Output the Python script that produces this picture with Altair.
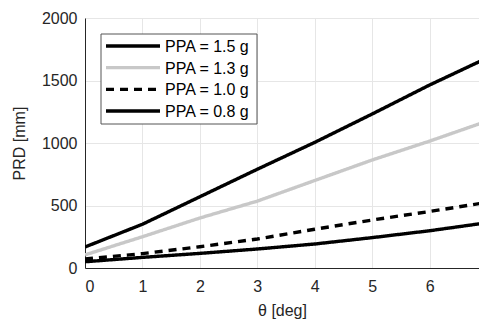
import altair as alt
import pandas as pd

theta = [0, 1, 2, 3, 4, 5, 6, 7]
prd_15 = [168, 350, 570, 790, 1005, 1232, 1464, 1680]
prd_13 = [105, 250, 400, 535, 700, 864, 1015, 1175]
prd_10 = [72, 115, 170, 232, 310, 384, 452, 525]
prd_08 = [50, 85, 117, 152, 192, 243, 298, 362]
series = ["PPA = 1.5 g", "PPA = 1.3 g", "PPA = 1.0 g", "PPA = 0.8 g"]
colors = ["#000000", "#c8c8c8", "#000000", "#000000"]
widths = [3.4, 3.4, 1.5, 1.5]
dashes = [[1, 0], [1, 0], [8, 6], [1, 0]]

rows = []
for name, vals in zip(series, [prd_15, prd_13, prd_10, prd_08]):
    for t, v in zip(theta, vals):
        rows.append({"theta": t, "prd": v, "series": name})
df = pd.DataFrame(rows)
legend_df = pd.DataFrame({"series": series, "row": list(range(len(series)))})

font = "Liberation Sans"
cscale = alt.Scale(domain=series, range=colors)
wscale = alt.Scale(domain=series, range=widths)
dscale = alt.Scale(domain=series, range=dashes)

# the reference is cut at the right edge of the window, just before theta = 7
lines = alt.Chart(df).mark_line(clip=True).encode(
    x=alt.X("theta:Q", scale=alt.Scale(domain=[0, 6.86], nice=False),
            axis=alt.Axis(title="θ [deg]", values=list(range(8)), format="d")),
    y=alt.Y("prd:Q", scale=alt.Scale(domain=[0, 2000], nice=False),
            axis=alt.Axis(title="PRD [mm]", values=[0, 500, 1000, 1500, 2000], format="d")),
    color=alt.Color("series:N", scale=cscale, legend=None),
    strokeWidth=alt.StrokeWidth("series:N", scale=wscale, legend=None),
    strokeDash=alt.StrokeDash("series:N", scale=dscale, legend=None),
)

box = alt.Chart(pd.DataFrame({"a": [0]})).mark_rect(
    fill="white", stroke="#555555", strokeWidth=1
).encode(x=alt.value(16), x2=alt.value(172), y=alt.value(16), y2=alt.value(106))

ly = alt.Y("row:Q", scale=alt.Scale(domain=[0, 3], range=[28, 93]), axis=None)
leg_rules = alt.Chart(legend_df).mark_rule().encode(
    x=alt.value(21), x2=alt.value(75), y=ly,
    color=alt.Color("series:N", scale=cscale, legend=None),
    strokeWidth=alt.StrokeWidth("series:N", scale=wscale, legend=None),
    strokeDash=alt.StrokeDash("series:N", scale=dscale, legend=None),
)
leg_text = alt.Chart(legend_df).mark_text(
    align="left", baseline="middle", font=font, fontSize=16, color="#000000", dy=1
).encode(x=alt.value(80), y=ly, text="series:N")

chart = alt.layer(lines, box, leg_rules, leg_text).resolve_scale(
    y="independent"
).properties(
    width=394, height=250,
    padding={"left": 77, "top": 10, "right": 0, "bottom": 52},
    autosize="none",
).configure_view(stroke=None).configure_axis(
    labelFont=font, titleFont=font, labelFontSize=16, titleFontSize=16,
    labelColor="#262626", titleColor="#262626", titleFontWeight="normal",
    gridColor="#e6e6e6", domainColor="#262626", ticks=False,
).configure_axisY(titlePadding=14, labelPadding=8).configure_axisX(
    titlePadding=8, labelPadding=10)

chart.save("out.html", embed_options={"renderer": "svg", "actions": False})
